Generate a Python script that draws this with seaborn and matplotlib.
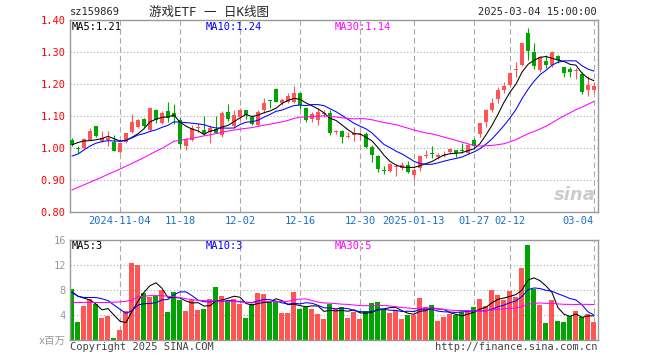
import matplotlib
matplotlib.use('Agg')
import matplotlib.pyplot as plt
import numpy as np
import pandas as pd
import seaborn as sns

# 游戏ETF daily candles, 2024-10-23 .. 2025-03-04 (88 trading days)
open_ = [1.025, 1.000, 0.999, 1.025, 1.069, 1.023, 1.026, 1.020, 0.988, 1.019,
         1.051, 1.067, 1.090, 1.056, 1.119, 1.079, 1.116, 1.110, 1.087, 1.006,
         1.025, 1.062, 1.056, 1.051, 1.060, 1.041, 1.112, 1.070, 1.098, 1.119,
         1.098, 1.072, 1.119, 1.150, 1.184, 1.142, 1.145, 1.145, 1.171, 1.124,
         1.090, 1.087, 1.106, 1.110, 1.050, 1.054, 1.035, 1.041, 1.042, 1.044,
         1.002, 0.975, 0.932, 0.928, 0.942, 0.938, 0.947, 0.916, 0.936, 0.974,
         0.982, 0.973, 0.976, 0.988, 0.994, 0.993, 0.983, 1.025, 1.044, 1.081,
         1.119, 1.152, 1.181, 1.197, 1.245, 1.259, 1.358, 1.299, 1.244, 1.272,
         1.259, 1.287, 1.254, 1.247, 1.242, 1.231, 1.181, 1.181]
high = [1.030, 1.006, 1.030, 1.062, 1.070, 1.054, 1.052, 1.041, 1.018, 1.048,
        1.105, 1.092, 1.095, 1.128, 1.123, 1.117, 1.145, 1.138, 1.098, 1.030,
        1.072, 1.077, 1.100, 1.072, 1.100, 1.115, 1.138, 1.118, 1.124, 1.120,
        1.103, 1.119, 1.155, 1.150, 1.186, 1.155, 1.171, 1.194, 1.174, 1.129,
        1.113, 1.124, 1.119, 1.119, 1.056, 1.056, 1.051, 1.067, 1.051, 1.051,
        1.009, 0.978, 0.943, 0.952, 0.950, 0.957, 0.960, 0.936, 0.978, 0.994,
        1.006, 0.983, 0.992, 1.000, 0.994, 1.017, 1.012, 1.030, 1.079, 1.121,
        1.155, 1.192, 1.207, 1.238, 1.270, 1.329, 1.374, 1.327, 1.288, 1.291,
        1.304, 1.291, 1.254, 1.254, 1.249, 1.238, 1.225, 1.207]
low = [1.006, 0.985, 0.996, 1.024, 1.035, 1.020, 1.005, 0.990, 0.985, 1.016,
       1.048, 1.064, 1.066, 1.054, 1.078, 1.075, 1.080, 1.075, 0.999, 0.994,
       1.022, 1.051, 1.040, 1.017, 1.046, 1.035, 1.085, 1.064, 1.088, 1.090,
       1.072, 1.068, 1.108, 1.124, 1.143, 1.134, 1.142, 1.140, 1.121, 1.082,
       1.082, 1.072, 1.098, 1.041, 1.044, 1.017, 1.030, 1.023, 1.025, 0.999,
       0.957, 0.926, 0.919, 0.926, 0.912, 0.932, 0.922, 0.901, 0.928, 0.970,
       0.969, 0.965, 0.973, 0.983, 0.971, 0.985, 0.980, 1.004, 1.033, 1.065,
       1.114, 1.142, 1.171, 1.194, 1.221, 1.255, 1.275, 1.246, 1.237, 1.249,
       1.254, 1.265, 1.223, 1.223, 1.216, 1.169, 1.163, 1.176]
close = [1.010, 0.998, 1.027, 1.054, 1.039, 1.030, 1.032, 0.991, 1.017, 1.046,
         1.081, 1.088, 1.069, 1.124, 1.088, 1.110, 1.095, 1.098, 1.012, 1.027,
         1.064, 1.066, 1.044, 1.061, 1.048, 1.110, 1.090, 1.103, 1.119, 1.103,
         1.075, 1.114, 1.140, 1.147, 1.145, 1.150, 1.162, 1.171, 1.134, 1.087,
         1.106, 1.113, 1.110, 1.048, 1.054, 1.035, 1.038, 1.048, 1.045, 1.002,
         0.978, 0.933, 0.929, 0.950, 0.944, 0.947, 0.926, 0.930, 0.976, 0.977,
         0.980, 0.978, 0.979, 0.997, 0.983, 0.991, 1.009, 1.007, 1.077, 1.120,
         1.142, 1.181, 1.194, 1.235, 1.247, 1.327, 1.304, 1.256, 1.283, 1.259,
         1.301, 1.275, 1.235, 1.238, 1.245, 1.176, 1.197, 1.195]
# volume, x百万
volume = [8.16, 2.83, 5.44, 6.56, 5.76, 3.52, 3.84, 0.30, 1.60, 4.64,
          12.40, 12.00, 7.50, 6.90, 7.00, 8.00, 4.50, 7.70, 6.40, 4.60,
          6.40, 4.80, 5.00, 6.60, 8.50, 7.00, 6.30, 6.60, 5.80, 3.50,
          5.80, 7.50, 7.40, 6.10, 6.20, 4.30, 4.30, 7.70, 5.00, 5.30,
          5.00, 4.20, 3.40, 5.76, 4.96, 5.33, 3.57, 4.53, 3.36, 4.64,
          5.97, 6.13, 4.80, 4.37, 4.80, 3.36, 4.05, 4.00, 6.77, 5.33,
          5.60, 3.09, 3.73, 4.10, 4.00, 4.43, 4.43, 5.33, 6.56, 5.44,
          8.00, 7.20, 6.40, 7.84, 6.93, 11.57, 15.20, 8.16, 5.60, 2.72,
          6.40, 3.04, 2.88, 3.84, 4.64, 3.73, 4.16, 2.93]

# moving averages before enough in-window history exists
ma5_head = [1.010, 1.017, 1.022, 1.023]
ma10_head = [0.975, 0.981, 0.994, 1.006, 1.015, 1.020, 1.023, 1.022, 1.021]
ma30_head = [0.869, 0.877, 0.885, 0.893, 0.901, 0.909, 0.918, 0.926, 0.934, 0.943,
             0.952, 0.961, 0.970, 0.980, 0.990, 0.999, 1.010, 1.021, 1.024, 1.027,
             1.030, 1.034, 1.038, 1.041, 1.045, 1.049, 1.053, 1.056, 1.059]
vma5_head = [7.7, 7.0, 6.7, 6.4]
vma10_head = [7.6, 7.0, 6.8, 6.8, 6.8, 6.6, 6.3, 5.6, 4.9]
vma30_head = [6.0, 6.0, 6.0, 6.0, 6.0, 6.0, 6.0, 6.05, 6.1, 6.2,
              6.4, 6.9, 7.0, 7.1, 7.1, 7.1, 7.0, 6.9, 6.8, 6.6,
              6.45, 6.35, 6.3, 6.25, 6.25, 6.2, 6.2, 6.15, 6.1]

tick_pos = [8, 18, 28, 38, 48, 57, 67, 73, 87]
tick_labels = ['2024-11-04', '11-18', '12-02', '12-16', '12-30',
               '2025-01-13', '01-27', '02-12', '03-04']

RED = '#ff5555'
GREEN = '#00a600'
GRID = '#aaaaaa'

sns.set_style('white')
plt.rcParams['font.family'] = ['DejaVu Sans Mono', 'Noto Sans CJK SC']

df = pd.DataFrame({'open': open_, 'high': high, 'low': low,
                   'close': close, 'vol': volume})
df['x'] = np.arange(len(df))


def moving(s, n, head):
    m = s.rolling(n).mean()
    m.iloc[:len(head)] = head
    return m


df['ma5'] = moving(df['close'], 5, ma5_head)
df['ma10'] = moving(df['close'], 10, ma10_head)
df['ma30'] = moving(df['close'], 30, ma30_head)
df['vma5'] = moving(df['vol'], 5, vma5_head)
df['vma10'] = moving(df['vol'], 10, vma10_head)
df['vma30'] = moving(df['vol'], 30, vma30_head)
colors = np.where(df['close'] >= df['open'], RED, GREEN)

fig = plt.figure(figsize=(6.6, 3.6), dpi=100)
ax = fig.add_axes([70/660, 1-212/360, 528/660, 192/360])
ax2 = fig.add_axes([70/660, 1-340/360, 528/660, 100/360])

# candles
ax.vlines(df['x'], df['low'], df['high'], colors=colors, lw=0.8, zorder=3)
body = np.maximum((df['close'] - df['open']).abs(), 0.003)
ax.bar(df['x'], body, bottom=np.minimum(df['open'], df['close']),
       width=0.75, color=colors, linewidth=0, zorder=3)
for col, c in [('ma5', 'black'), ('ma10', '#0000ff'), ('ma30', '#ff00ff')]:
    sns.lineplot(data=df, x='x', y=col, ax=ax, color=c, lw=0.75, zorder=4)

# volume
ax2.bar(df['x'], df['vol'], width=0.83, color=colors, linewidth=0, zorder=2)
for col, c in [('vma5', 'black'), ('vma10', '#0000ff'), ('vma30', '#ff00ff')]:
    sns.lineplot(data=df, x='x', y=col, ax=ax2, color=c, lw=0.75, zorder=4)

for a in (ax, ax2):
    a.set_xlim(-0.33, 87.67)
    a.set_xlabel('')
    a.set_ylabel('')
    a.set_xticks(tick_pos)
    a.grid(axis='x', ls=(0, (5, 3)), color=GRID, lw=0.8)
    a.grid(axis='y', ls=(0, (1, 2)), color=GRID, lw=0.8)
    a.set_axisbelow(True)
    for s in a.spines.values():
        s.set_color('#999999')
        s.set_linewidth(1)

ax.set_ylim(0.80, 1.40)
ax.set_yticks(np.round(np.arange(0.8, 1.41, 0.1), 2))
ax.set_yticklabels(['%.2f' % v for v in np.arange(0.8, 1.41, 0.1)])
ax.tick_params(axis='y', length=0, pad=3, labelsize=7.5, labelcolor='#ff0000')
ax.set_xticklabels(tick_labels)
ax.tick_params(axis='x', length=0, pad=3, labelsize=7.5, labelcolor='#1a6fcc')
ax.get_xticklabels()[-1].set_ha('right')

ax2.set_ylim(0, 16)
ax2.set_yticks([0, 4, 8, 12, 16])
ax2.set_yticklabels(['x百万', '4', '8', '12', '16'])
ax2.tick_params(axis='y', length=0, pad=3, labelsize=7.5, labelcolor='#999999')
ax2.tick_params(axis='x', length=0, labelbottom=False)

# MA captions
for a, texts in [(ax, ['MA5:1.21', 'MA10:1.24', 'MA30:1.14']),
                 (ax2, ['MA5:3', 'MA10:3', 'MA30:5'])]:
    for t, xp, c in zip(texts, [0.004, 0.256, 0.502], ['black', '#0000ff', '#ff00ff']):
        a.text(xp, 0.99, t, transform=a.transAxes, ha='left', va='top',
               fontsize=7.5, color=c)

ax.text(0.995, 0.04, 'sina', transform=ax.transAxes, ha='right', va='bottom',
        fontsize=13, fontstyle='italic', fontweight='bold', color='#cccccc',
        family='DejaVu Sans')

fig.text(70/660, 1-12/360, 'sz159869', ha='left', va='center', fontsize=7.5)
fig.text(209/660, 1-12/360, '游戏ETF 一 日K线图', ha='center', va='center', fontsize=9)
fig.text(597/660, 1-12/360, '2025-03-04 15:00:00', ha='right', va='center', fontsize=7.5)
fig.text(70/660, 1-347/360, 'Copyright 2025 SINA.COM', ha='left', va='center',
         fontsize=7.5, color='#444444')
fig.text(597/660, 1-347/360, 'http://finance.sina.com.cn', ha='right', va='center',
         fontsize=7.5, color='#444444')

fig.savefig('out.png', dpi=100)
